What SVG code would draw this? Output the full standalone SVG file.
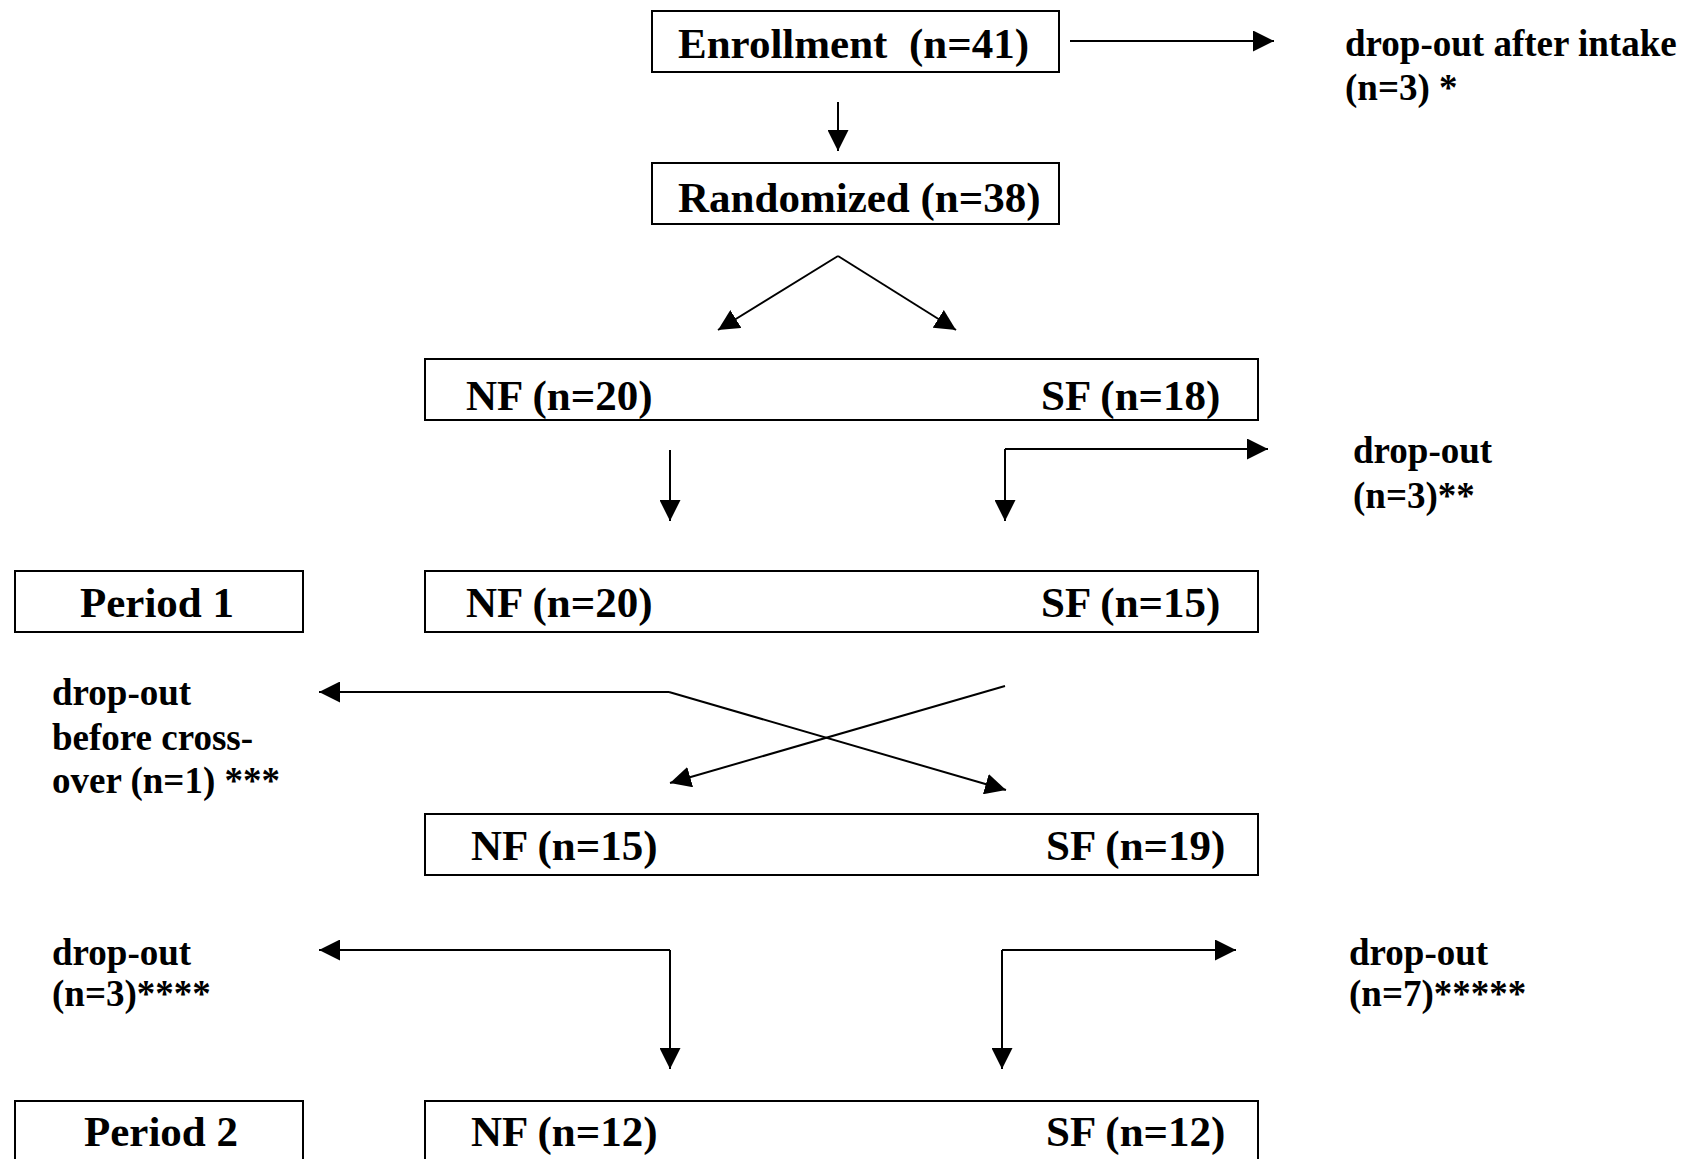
<svg xmlns="http://www.w3.org/2000/svg" width="1689" height="1159" viewBox="0 0 1689 1159">
<defs>
<marker id="ah" markerUnits="userSpaceOnUse" markerWidth="21" markerHeight="21" viewBox="0 0 21 21" refX="21" refY="10.5" orient="auto">
<path d="M0,0 L21,10.5 L0,21 Z" fill="#000"/>
</marker>
<style>
.box{fill:#fff;stroke:#000;stroke-width:2}
.bt{font-family:"Liberation Serif","Times New Roman",serif;font-weight:bold;font-size:43px;fill:#000;white-space:pre}
.lb{font-family:"Liberation Serif","Times New Roman",serif;font-weight:bold;font-size:37px;fill:#000;white-space:pre}
.cn{fill:none;stroke:#000;stroke-width:2;marker-end:url(#ah)}
</style>
</defs>
<rect width="1689" height="1159" fill="#fff"/>
<g id="connectors">
<path class="cn" d="M1070,41 L1274,41"/>
<path class="cn" d="M838,102 L838,151"/>
<path class="cn" d="M838,256 L718,330"/>
<path class="cn" d="M838,256 L956,330"/>
<path class="cn" d="M670,450 L670,521"/>
<path class="cn" d="M1005,449 L1005,521"/>
<path class="cn" d="M1005,449 L1268,449"/>
<path class="cn" d="M1005,686 L670,783"/>
<path class="cn" d="M669,692 L319,692"/>
<path class="cn" d="M669,692 L1006,790"/>
<path class="cn" d="M670,950 L319,950"/>
<path class="cn" d="M670,950 L670,1069"/>
<path class="cn" d="M1002,950 L1236,950"/>
<path class="cn" d="M1002,950 L1002,1069"/>
</g>
<g id="enrollment">
<rect class="box" x="652" y="11" width="407" height="61"/>
<text class="bt" x="678" y="58">Enrollment  (n=41)</text>
</g>
<g id="dropout-intake">
<text class="lb" x="1345" y="56">drop-out after intake</text>
<text class="lb" x="1345" y="100">(n=3) *</text>
</g>
<g id="randomized">
<rect class="box" x="652" y="163" width="407" height="61"/>
<text class="bt" x="678" y="212">Randomized (n=38)</text>
</g>
<g id="alloc">
<rect class="box" x="425" y="359" width="833" height="61"/>
<text class="bt" x="466" y="410">NF (n=20)</text>
<text class="bt" x="1041" y="410">SF (n=18)</text>
</g>
<g id="dropout-sf1">
<text class="lb" x="1353" y="463">drop-out</text>
<text class="lb" x="1353" y="508">(n=3)**</text>
</g>
<g id="period1">
<rect class="box" x="15" y="571" width="288" height="61"/>
<text class="bt" x="157" y="617" text-anchor="middle">Period 1</text>
</g>
<g id="p1groups">
<rect class="box" x="425" y="571" width="833" height="61"/>
<text class="bt" x="466" y="617">NF (n=20)</text>
<text class="bt" x="1041" y="617">SF (n=15)</text>
</g>
<g id="dropout-cross">
<text class="lb" x="52" y="705">drop-out</text>
<text class="lb" x="52" y="750">before cross-</text>
<text class="lb" x="52" y="793">over (n=1) ***</text>
</g>
<g id="crossgroups">
<rect class="box" x="425" y="814" width="833" height="61"/>
<text class="bt" x="471" y="860">NF (n=15)</text>
<text class="bt" x="1046" y="860">SF (n=19)</text>
</g>
<g id="dropout-nf2">
<text class="lb" x="52" y="965">drop-out</text>
<text class="lb" x="52" y="1006">(n=3)****</text>
</g>
<g id="dropout-sf2">
<text class="lb" x="1349" y="965">drop-out</text>
<text class="lb" x="1349" y="1006">(n=7)*****</text>
</g>
<g id="period2">
<rect class="box" x="15" y="1101" width="288" height="80"/>
<text class="bt" x="161" y="1146" text-anchor="middle">Period 2</text>
</g>
<g id="p2groups">
<rect class="box" x="425" y="1101" width="833" height="80"/>
<text class="bt" x="471" y="1146">NF (n=12)</text>
<text class="bt" x="1046" y="1146">SF (n=12)</text>
</g>
</svg>
